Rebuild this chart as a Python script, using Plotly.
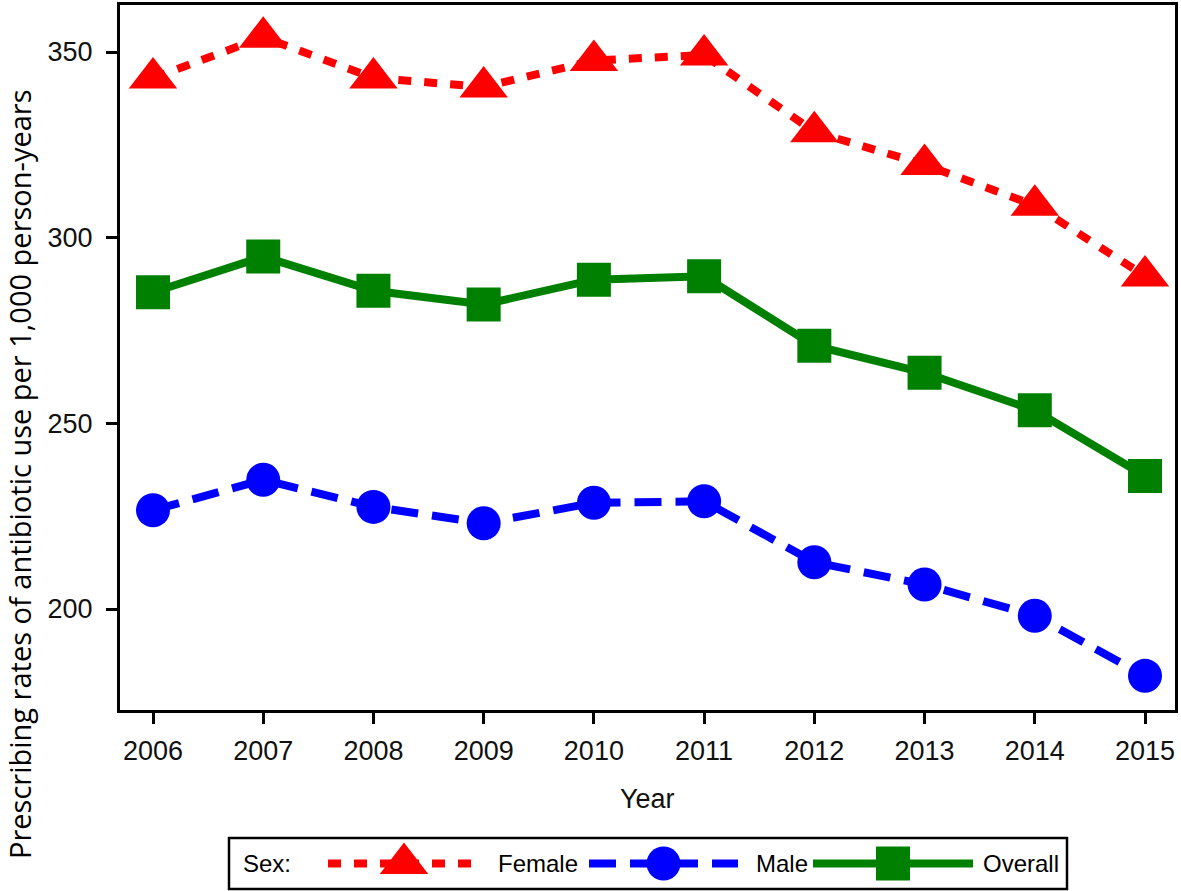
import plotly.graph_objects as go

years = [2006, 2007, 2008, 2009, 2010, 2011, 2012, 2013, 2014, 2015]
female = [343.0, 354.0, 343.0, 340.6, 347.7, 349.2, 328.5, 319.7, 308.7, 289.7]
male = [226.6, 234.8, 227.5, 223.1, 228.6, 229.0, 212.6, 206.6, 198.2, 182.0]
overall = [285.3, 294.9, 285.7, 282.0, 288.7, 289.6, 270.9, 263.6, 253.5, 235.8]
y_ticks = [200, 250, 300, 350]
series_names = ["Female", "Male", "Overall"]

W, H = 1181, 891
RED, BLUE, GREEN = "#FF0000", "#0000FF", "#008000"
FONT = "Liberation Sans, Arial, sans-serif"

fig = go.Figure()

fig.add_trace(go.Scatter(
    x=years, y=female, mode="lines+markers", name="Female",
    line=dict(color=RED, width=8, dash="13px,13px"),
    marker=dict(symbol="triangle-up", size=42, color=RED, opacity=1),
    xaxis="x", yaxis="y", showlegend=False))
fig.add_trace(go.Scatter(
    x=years, y=male, mode="lines+markers", name="Male",
    line=dict(color=BLUE, width=8, dash="27px,14px"),
    marker=dict(symbol="circle", size=34, color=BLUE, opacity=1),
    xaxis="x", yaxis="y", showlegend=False))
fig.add_trace(go.Scatter(
    x=years, y=overall, mode="lines+markers", name="Overall",
    line=dict(color=GREEN, width=8),
    marker=dict(symbol="square", size=34, color=GREEN, opacity=1),
    xaxis="x", yaxis="y", showlegend=False))

# custom legend drawn on a hidden helper axis (pixel-like units)
leg_specs = [
    (RED, "13px,13px", "triangle-up", 42, 100, 252),
    (BLUE, "27px,14px", "circle", 34, 361, 510),
    (GREEN, "solid", "square", 34, 585, 745),
]
for (col, dash, sym, sz, x0, x1) in leg_specs:
    xm = (x0 + x1) / 2
    fig.add_trace(go.Scatter(
        x=[x0, x1], y=[25.5, 25.5], mode="lines",
        line=dict(color=col, width=8, dash=dash),
        xaxis="x2", yaxis="y2", showlegend=False, hoverinfo="skip"))
    fig.add_trace(go.Scatter(
        x=[xm], y=[25.5], mode="markers",
        marker=dict(symbol=sym, size=sz, color=col, opacity=1, line=dict(width=0)),
        xaxis="x2", yaxis="y2", showlegend=False, hoverinfo="skip"))

leg_text = [("Sex:", 13), ("Female", 268), ("Male", 526), ("Overall", 753)]

# plot area in pixels
L, R, T, B = 120, 1175, 5, 710
x_range = [2006 - (153 - L) / 110.22, 2015 + (R - 1145) / 110.22]
y_range = [200 - (B - 609) / 3.7133, 350 + (52 - T) / 3.7133]

fig.update_layout(
    width=W, height=H,
    margin=dict(l=0, r=0, t=0, b=0),
    paper_bgcolor="white", plot_bgcolor="white",
    font=dict(family=FONT, color="black"),
    xaxis=dict(
        domain=[L / W, R / W], range=x_range,
        tickvals=years, ticktext=[str(y) for y in years],
        ticks="outside", ticklen=11, tickwidth=3, tickcolor="black",
        showline=True, linewidth=3, linecolor="black", mirror=True,
        showgrid=False, zeroline=False, ticklabelstandoff=4,
        tickfont=dict(size=27, family=FONT, color="#111"),
        anchor="y"),
    yaxis=dict(
        domain=[1 - B / H, 1 - T / H], range=y_range,
        tickvals=y_ticks,
        ticks="outside", ticklen=11, tickwidth=3, tickcolor="black",
        showline=True, linewidth=3, linecolor="black", mirror=True,
        showgrid=False, zeroline=False, ticklabelstandoff=8,
        tickfont=dict(size=27, family=FONT, color="#111"),
        anchor="x"),
    xaxis2=dict(domain=[228 / W, 1068 / W], range=[0, 840], visible=False,
                fixedrange=True, anchor="y2"),
    yaxis2=dict(domain=[1 - 889 / H, 1 - 838 / H], range=[0, 51], visible=False,
                fixedrange=True, anchor="x2"),
)

shapes = [dict(type="rect", xref="paper", yref="paper",
               x0=229 / W, x1=1067 / W, y0=1 - 889 / H, y1=1 - 838 / H,
               line=dict(color="black", width=2.5), fillcolor="rgba(0,0,0,0)",
               layer="below")]
fig.update_layout(shapes=shapes)

annotations = []
for txt, xx in leg_text:
    annotations.append(dict(text=txt, x=xx, y=25.5, xref="x2", yref="y2",
                            xanchor="left", yanchor="middle", showarrow=False,
                            font=dict(size=24, family=FONT, color="black")))
annotations.append(dict(text="Year", x=(L + R) / 2 / W, y=1 - 799 / H,
                        xref="paper", yref="paper", xanchor="center", yanchor="middle",
                        showarrow=False, font=dict(size=27, family=FONT, color="#111")))
annotations.append(dict(text="Prescribing rates of antibiotic use per 1,000 person-years",
                        x=19 / W, y=1 - 475 / H, xref="paper", yref="paper",
                        xanchor="center", yanchor="middle", textangle=-90,
                        showarrow=False,
                        font=dict(size=29, family="Liberation Sans Narrow, Open Sans, sans-serif",
                                  color="black")))
fig.update_layout(annotations=annotations)

fig.write_html("out.html", config={"displayModeBar": False},
               post_script="document.body.style.margin='0';document.body.style.overflow='hidden';")
